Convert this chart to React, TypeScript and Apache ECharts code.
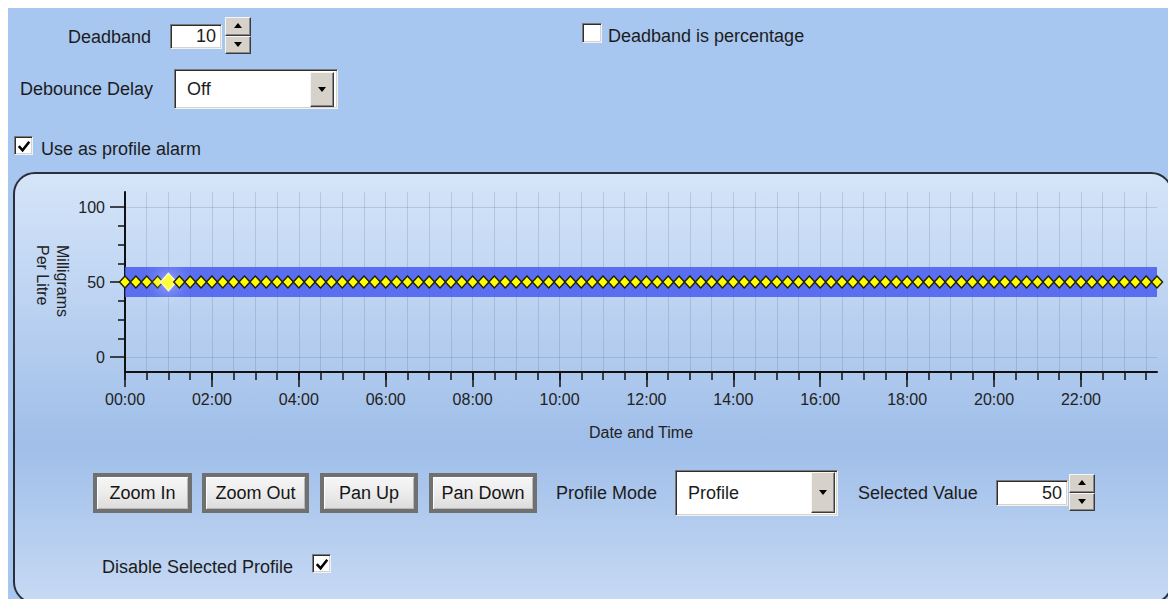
import React, { useEffect, useRef } from "react";
import * as echarts from "echarts";

// ---------- data ----------
const timeLabels = [
  "00:00", "00:15", "00:30", "00:45", "01:00", "01:15", "01:30", "01:45",
  "02:00", "02:15", "02:30", "02:45", "03:00", "03:15", "03:30", "03:45",
  "04:00", "04:15", "04:30", "04:45", "05:00", "05:15", "05:30", "05:45",
  "06:00", "06:15", "06:30", "06:45", "07:00", "07:15", "07:30", "07:45",
  "08:00", "08:15", "08:30", "08:45", "09:00", "09:15", "09:30", "09:45",
  "10:00", "10:15", "10:30", "10:45", "11:00", "11:15", "11:30", "11:45",
  "12:00", "12:15", "12:30", "12:45", "13:00", "13:15", "13:30", "13:45",
  "14:00", "14:15", "14:30", "14:45", "15:00", "15:15", "15:30", "15:45",
  "16:00", "16:15", "16:30", "16:45", "17:00", "17:15", "17:30", "17:45",
  "18:00", "18:15", "18:30", "18:45", "19:00", "19:15", "19:30", "19:45",
  "20:00", "20:15", "20:30", "20:45", "21:00", "21:15", "21:30", "21:45",
  "22:00", "22:15", "22:30", "22:45", "23:00", "23:15", "23:30", "23:45",
];

const profileValues = [
  50, 50, 50, 50, 50, 50, 50, 50, 50, 50, 50, 50,
  50, 50, 50, 50, 50, 50, 50, 50, 50, 50, 50, 50,
  50, 50, 50, 50, 50, 50, 50, 50, 50, 50, 50, 50,
  50, 50, 50, 50, 50, 50, 50, 50, 50, 50, 50, 50,
  50, 50, 50, 50, 50, 50, 50, 50, 50, 50, 50, 50,
  50, 50, 50, 50, 50, 50, 50, 50, 50, 50, 50, 50,
  50, 50, 50, 50, 50, 50, 50, 50, 50, 50, 50, 50,
  50, 50, 50, 50, 50, 50, 50, 50, 50, 50, 50, 50,
];

const selectedIndex = 4;
const deadband = 10;
const yMin = -10;
const yMax = 110;
const yMajorTicks = [0, 50, 100];
const yMinorTicks = [12.5, 25, 37.5, 62.5, 75, 87.5];
const yAxisTitle = "Milligrams\nPer Litre";
const xAxisTitle = "Date and Time";

const FONT = '"Liberation Sans", Arial, sans-serif';

// ---------- small UI pieces ----------
const Label = ({ x, cy, text, size = 18 }: { x: number; cy: number; text: string; size?: number }) => (
  <div
    style={{
      position: "absolute",
      left: x,
      top: cy - 11,
      height: 22,
      lineHeight: "22px",
      fontSize: size,
      fontFamily: FONT,
      color: "#1c1c1c",
      whiteSpace: "nowrap",
    }}
  >
    {text}
  </div>
);

const sunken: React.CSSProperties = {
  position: "absolute",
  boxSizing: "border-box",
  background: "#ffffff",
  borderStyle: "solid",
  borderWidth: 1,
  borderColor: "#7a7a7a #f2f2f2 #f2f2f2 #7a7a7a",
  boxShadow: "inset 1px 1px 0 #2e2e2e, inset -1px -1px 0 #d6d3cc",
};

const raised: React.CSSProperties = {
  position: "absolute",
  boxSizing: "border-box",
  background: "#d6d2ca",
  borderStyle: "solid",
  borderWidth: 1,
  borderColor: "#f6f6f6 #3a3a3a #3a3a3a #f6f6f6",
  boxShadow: "inset -1px -1px 0 #888888",
};

const Tri = ({ up }: { up: boolean }) => (
  <div
    style={{
      position: "absolute",
      left: "50%",
      top: "50%",
      width: 0,
      height: 0,
      marginLeft: -4,
      marginTop: -3,
      borderLeft: "4px solid transparent",
      borderRight: "4px solid transparent",
      ...(up ? { borderBottom: "5px solid #000" } : { borderTop: "5px solid #000" }),
    }}
  />
);

const Spinner = ({ x, y, w, h }: { x: number; y: number; w: number; h: number }) => (
  <>
    <div style={{ ...raised, left: x, top: y, width: w, height: h / 2 }}>
      <Tri up={true} />
    </div>
    <div style={{ ...raised, left: x, top: y + h / 2, width: w, height: h / 2 }}>
      <Tri up={false} />
    </div>
  </>
);

const TextBox = ({ x, y, w, h, text }: { x: number; y: number; w: number; h: number; text: string }) => (
  <div
    style={{
      ...sunken,
      left: x,
      top: y,
      width: w,
      height: h,
      fontFamily: FONT,
      fontSize: 18,
      color: "#1c1c1c",
      textAlign: "right",
      paddingRight: 5,
      lineHeight: `${h - 2}px`,
    }}
  >
    {text}
  </div>
);

const Dropdown = ({
  x, y, w, h, text, bx, by, bw, bh,
}: { x: number; y: number; w: number; h: number; text: string; bx: number; by: number; bw: number; bh: number }) => (
  <>
    <div
      style={{
        ...sunken,
        left: x,
        top: y,
        width: w,
        height: h,
        fontFamily: FONT,
        fontSize: 18,
        color: "#1c1c1c",
        paddingLeft: 12,
        lineHeight: `${h - 2}px`,
      }}
    >
      {text}
    </div>
    <div style={{ ...raised, left: bx, top: by, width: bw, height: bh }}>
      <Tri up={false} />
    </div>
  </>
);

const CheckBox = ({ x, y, s, checked }: { x: number; y: number; s: number; checked: boolean }) => (
  <div style={{ ...sunken, left: x, top: y, width: s, height: s }}>
    {checked && (
      <svg width={s - 2} height={s - 2} style={{ position: "absolute", left: 0, top: 0 }}>
        <polyline
          points={`${s * 0.2},${s * 0.48} ${s * 0.4},${s * 0.7} ${s * 0.75},${s * 0.25}`}
          fill="none"
          stroke="#000"
          strokeWidth={2.6}
        />
      </svg>
    )}
  </div>
);

const Button = ({ x, y, w, h, text }: { x: number; y: number; w: number; h: number; text: string }) => (
  <div
    style={{
      position: "absolute",
      boxSizing: "border-box",
      left: x,
      top: y,
      width: w,
      height: h,
      border: "4px solid #707070",
      background: "linear-gradient(180deg, #f6f6f6 0%, #ececec 50%, #dcdcdc 100%)",
      boxShadow: "inset 1px 1px 0 #ffffff, inset -1px -1px 0 #b8b8b8",
      fontFamily: FONT,
      fontSize: 18,
      color: "#151515",
      textAlign: "center",
      lineHeight: `${h - 8}px`,
      whiteSpace: "nowrap",
    }}
  >
    {text}
  </div>
);

// ---------- chart ----------
const ProfileChart = () => {
  const ref = useRef<HTMLDivElement>(null);
  useEffect(() => {
    if (!ref.current) return;
    const chart = echarts.init(ref.current, null, { renderer: "svg" });
    const bandLower = profileValues.map((v) => v - deadband);
    const bandSpan = profileValues.map(() => 2 * deadband);
    const profileData = profileValues.map((v, i) =>
      i === selectedIndex
        ? {
            value: v,
            symbolSize: [16, 18],
            itemStyle: {
              color: "#ffff40",
              borderColor: "#fffff0",
              borderWidth: 1,
              shadowBlur: 18,
              shadowColor: "rgba(255,255,255,1)",
            },
          }
        : v
    );
    const labelStyle = { fontFamily: FONT, fontSize: 16, color: "#222222" };
    chart.setOption({
      animation: false,
      grid: {
        left: 111,
        top: 17,
        right: 11,
        bottom: 88,
        containLabel: false,
        outerBoundsMode: "none",
      },
      xAxis: [
        {
          type: "category",
          data: timeLabels,
          boundaryGap: false,
          position: "bottom",
          axisLine: { show: true, onZero: false, lineStyle: { color: "#111111", width: 2 } },
          axisTick: { show: true, interval: 1, length: 8, lineStyle: { color: "#111111", width: 1.5 } },
          axisLabel: { show: false },
          splitLine: { show: true, interval: 1, lineStyle: { color: "rgba(70,95,135,0.2)", width: 1 } },
        },
        {
          type: "category",
          data: timeLabels,
          boundaryGap: false,
          position: "bottom",
          offset: 0,
          axisLine: { show: false, onZero: false },
          axisTick: { show: true, interval: 7, length: 15, lineStyle: { color: "#111111", width: 1.5 } },
          axisLabel: { show: true, interval: 7, margin: 19, ...labelStyle },
          splitLine: { show: false },
          name: xAxisTitle,
          nameLocation: "middle",
          nameGap: 52,
          nameTextStyle: { ...labelStyle, fontSize: 16 },
        },
      ],
      yAxis: [
        {
          type: "value",
          min: yMin,
          max: yMax,
          position: "left",
          axisLine: { show: true, onZero: false, lineStyle: { color: "#111111", width: 2 } },
          axisTick: { show: true, length: 15, customValues: yMajorTicks, lineStyle: { color: "#111111", width: 1.5 } },
          axisLabel: { show: true, margin: 20, customValues: yMajorTicks, ...labelStyle },
          splitLine: { show: true, lineStyle: { color: "rgba(70,95,135,0.2)", width: 1 } },
        },
        {
          type: "value",
          min: yMin,
          max: yMax,
          position: "left",
          offset: 0,
          axisLine: { show: false, onZero: false },
          axisTick: { show: true, length: 7, customValues: yMinorTicks, lineStyle: { color: "#111111", width: 1.5 } },
          axisLabel: { show: false },
          splitLine: { show: false },
        },
      ],
      graphic: [
        {
          type: "text",
          x: 38,
          y: 70,
          rotation: -Math.PI / 2,
          style: {
            text: yAxisTitle,
            align: "left",
            verticalAlign: "middle",
            fontFamily: FONT,
            fontSize: 16,
            lineHeight: 20,
            fill: "#222222",
          },
        },
      ],
      series: [
        {
          type: "line",
          data: bandLower,
          stack: "band",
          symbol: "none",
          silent: true,
          lineStyle: { opacity: 0 },
          z: 1,
        },
        {
          type: "line",
          data: bandSpan,
          stack: "band",
          symbol: "none",
          silent: true,
          lineStyle: { opacity: 0 },
          areaStyle: { color: "rgba(72,92,240,0.85)", opacity: 1 },
          z: 1,
        },
        {
          type: "line",
          data: profileData,
          symbol: "diamond",
          symbolSize: [11, 12],
          showAllSymbol: true,
          lineStyle: { color: "#2a2a2a", width: 1 },
          itemStyle: { color: "#ffff00", borderColor: "#1e1e0a", borderWidth: 1.5 },
          z: 3,
        },
      ],
    });
    return () => chart.dispose();
  }, []);
  return <div ref={ref} style={{ position: "absolute", left: 14, top: 175, width: 1154, height: 285 }} />;
};

export default function App() {
  return (
    <div
      style={{
        position: "fixed",
        left: 0,
        top: 0,
        width: 1168,
        height: 599,
        background: "#ffffff",
        overflow: "hidden",
      }}
    >
      <div style={{ position: "absolute", left: 8, top: 8, right: 0, bottom: 0, background: "#a7c7f1" }} />

      {/* top controls */}
      <Label x={68} cy={36.5} text="Deadband" />
      <TextBox x={170} y={24} w={52} h={25} text="10" />
      <Spinner x={225} y={17} w={26} h={37} />

      <CheckBox x={582} y={23} s={20} checked={false} />
      <Label x={608} cy={36} text="Deadband is percentage" />

      <Label x={20} cy={89} text="Debounce Delay" />
      <Dropdown x={174} y={69} w={164} h={40} text="Off" bx={310} by={72} bw={24} bh={35} />

      <CheckBox x={14} y={136} s={19} checked={true} />
      <Label x={41} cy={148.5} text="Use as profile alarm" />

      {/* chart panel */}
      <div
        style={{
          position: "absolute",
          left: 13,
          top: 172,
          width: 1160,
          height: 432,
          boxSizing: "border-box",
          border: "2px solid #2b2f3a",
          borderRadius: 22,
          background:
            "linear-gradient(180deg, #d5e5f9 0px, #b4cdef 170px, #9fbee9 270px, #c7daf4 430px)",
        }}
      />
      <ProfileChart />

      {/* bottom controls */}
      <Button x={93} y={473} w={99} h={40} text="Zoom In" />
      <Button x={202} y={473} w={107} h={40} text="Zoom Out" />
      <Button x={320} y={473} w={98} h={40} text="Pan Up" />
      <Button x={429} y={473} w={108} h={40} text="Pan Down" />

      <Label x={556} cy={492.5} text="Profile Mode" />
      <Dropdown x={675} y={470} w={163} h={46} text="Profile" bx={811} by={472} bw={24} bh={41} />

      <Label x={858} cy={492.5} text="Selected Value" />
      <TextBox x={996} y={480} w={72} h={26} text="50" />
      <Spinner x={1069} y={474} w={26} h={37} />

      <Label x={102} cy={566.5} text="Disable Selected Profile" />
      <CheckBox x={312} y={554} s={19} checked={true} />
    </div>
  );
}
